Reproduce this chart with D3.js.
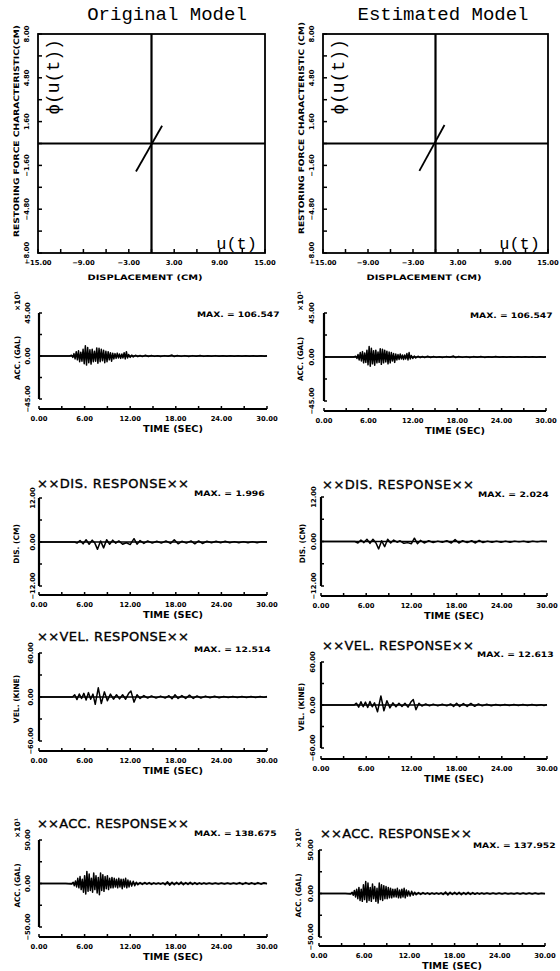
<!DOCTYPE html>
<html><head><meta charset="utf-8">
<script src="https://cdn.jsdelivr.net/npm/d3@7"></script>
<style>body{margin:0;background:#fff}svg{display:block}</style>
</head><body><script>
// ---------------- DATA ----------------
const hystTicksX = [-15,-12,-9,-6,-3,0,3,6,9,12,15];
const hystLabelsX = [-15,-9,-3,3,9,15];
const hystTicksY = [-8,-6.4,-4.8,-3.2,-1.6,0,1.6,3.2,4.8,6.4,8];
const hystLabelsY = [-8,-4.8,-1.6,1.6,4.8,8];
const hystOriginal = [[-2.05,-2.05],[1.4,1.3]];
const hystEstimated = [[-2.15,-2.0],[1.2,1.35]];
const timeTicks = [0,3,6,9,12,15,18,21,24,27,30];
const timeLabels = [0,6,12,18,24,30];

// input ground acceleration (x10 gal) — same record for both models
const inputAcc = [[0,0],[4.0,0],[4.3,0.8],[4.45,-1.5],[4.6,2.5],[4.75,-3],[4.9,4.5],[5.05,-4],[5.2,5.5],[5.35,-6],[5.5,4],[5.65,-5.5],[5.8,7],[5.95,-8],[6.1,10.65],[6.25,-9.5],[6.4,9],[6.55,-7],[6.7,6.5],[6.85,-8.5],[7.0,7],[7.15,-6],[7.3,5],[7.45,-5.5],[7.6,8.5],[7.75,-7.5],[7.9,8],[8.05,-6],[8.2,7],[8.35,-5],[8.5,6],[8.65,-7],[8.8,5],[8.95,-6],[9.1,4.5],[9.25,-4],[9.4,3.5],[9.55,-5.5],[9.7,3],[9.85,-3],[10.0,2.5],[10.15,-2.5],[10.3,3],[10.45,-2],[10.6,2],[10.75,-2.5],[10.9,2],[11.05,-2],[11.2,3.5],[11.35,-3],[11.5,4.5],[11.65,-2],[11.8,1.5],[12.0,-1.5],[12.2,1],[12.4,-1],[12.7,0.8],[13,-0.7],[13.3,0.5],[13.6,-0.6],[14,0.8],[14.4,-0.5],[14.8,0.5],[15.2,-0.4],[15.6,0.3],[16,-0.5],[16.5,0.4],[17,-0.3],[17.5,1],[17.8,-0.6],[18.2,0.5],[18.7,-0.4],[19.2,0.4],[19.7,-0.5],[20.2,0.4],[20.7,-0.3],[21.2,0.5],[21.7,-0.4],[22.2,0.3],[22.7,-0.3],[23.2,0.4],[23.7,-0.3],[24.2,0.3],[24.7,-0.3],[25.2,0.3],[25.7,-0.3],[26.2,0.3],[26.7,-0.2],[27.2,0.3],[27.7,-0.3],[28.2,0.2],[28.7,-0.3],[29.2,0.3],[29.7,-0.2],[30,0.2]];

const origDis = [[0,0],[4.7,0],[5.0,-0.3],[5.4,0.4],[5.8,-0.5],[6.2,0.6],[6.6,-0.6],[7.0,0.5],[7.35,-0.3],[7.7,-2.0],[8.1,0.3],[8.5,-1.6],[8.9,0.6],[9.3,-0.6],[9.7,0.5],[10.1,-0.3],[10.5,0.3],[11.0,-0.6],[11.5,-0.2],[12.0,-0.7],[12.5,0.9],[12.9,-0.6],[13.3,0.4],[13.8,-0.4],[14.3,0.3],[14.9,-0.3],[15.5,0.2],[16.1,-0.3],[16.7,0.3],[17.3,-0.4],[17.8,0.6],[18.3,-0.5],[18.8,0.2],[19.4,-0.3],[20.0,0.3],[20.5,-0.5],[21.0,0.3],[21.5,-0.4],[22.1,0.2],[22.7,-0.2],[23.3,0.2],[23.9,-0.2],[24.5,0.2],[25.1,-0.2],[25.7,0.1],[26.3,-0.2],[26.9,0.1],[27.5,-0.2],[28.1,0.1],[28.7,-0.2],[29.3,0.1],[30,0]];
const estDis = [[0,0],[4.5,0],[4.9,-0.4],[5.3,0.4],[5.7,-0.3],[6.1,0.6],[6.5,-0.5],[6.9,0.6],[7.3,-0.4],[7.65,-2.0],[8.05,0.2],[8.45,-1.4],[8.85,0.6],[9.25,-0.4],[9.65,0.4],[10.1,-0.2],[10.5,0.2],[11.0,-0.5],[11.5,-0.3],[12.0,-0.6],[12.4,0.9],[12.8,-0.6],[13.2,0.3],[13.7,-0.4],[14.3,0.2],[14.9,-0.3],[15.5,0.1],[16.1,-0.2],[16.7,0.2],[17.3,-0.4],[17.8,0.5],[18.3,-0.4],[18.8,0.2],[19.4,-0.3],[20.0,0.2],[20.5,-0.4],[21.0,0.3],[21.5,-0.3],[22.1,0.1],[22.7,-0.2],[23.3,0.1],[23.9,-0.2],[24.5,0.1],[25.1,-0.2],[25.7,0.1],[26.3,-0.1],[26.9,0.1],[27.5,-0.2],[28.1,0.1],[28.7,-0.1],[29.3,0.1],[30,0]];

const origVel = [[0,0],[4.4,0],[4.7,3],[5.0,-3.5],[5.3,4],[5.6,-2],[5.9,5],[6.2,-4],[6.5,6],[6.8,-3],[7.1,4],[7.4,-10],[7.8,12.5],[8.2,-9],[8.6,7],[9.0,-5],[9.4,4],[9.8,-3],[10.2,3],[10.6,-2.5],[11.0,3],[11.4,-3],[11.8,5],[12.1,8],[12.5,-7],[12.9,3],[13.3,-2],[13.8,2],[14.3,-1.5],[14.8,1.5],[15.4,-1.5],[16.0,1.2],[16.6,-1.5],[17.1,1.8],[17.5,-2.5],[17.9,3],[18.3,-2],[18.8,2],[19.3,-2],[19.8,2.5],[20.3,-2],[20.8,1.5],[21.3,-1.5],[21.9,1.2],[22.5,-1],[23.1,1],[23.7,-1],[24.3,0.8],[24.9,-0.8],[25.5,0.8],[26.1,-0.8],[26.7,0.8],[27.3,-0.8],[27.9,0.7],[28.5,-0.7],[29.1,0.7],[29.6,-0.5],[30,0.8]];
const estVel = [[0,0],[4.4,0],[4.7,2.5],[5.0,-3],[5.3,4.5],[5.6,-2.5],[5.9,4],[6.2,-3.5],[6.5,5],[6.8,-2.5],[7.1,3],[7.5,-9.5],[7.95,12.6],[8.35,-8],[8.75,6],[9.15,-4],[9.55,3],[9.95,-2.5],[10.35,2.5],[10.75,-2],[11.15,2.5],[11.55,-3],[11.95,4.5],[12.25,7.5],[12.6,-6.5],[13.0,2.5],[13.4,-1.5],[13.9,1.5],[14.4,-1.2],[14.9,1.2],[15.5,-1.2],[16.1,1],[16.7,-1.2],[17.2,1.5],[17.6,-2],[18.0,2.5],[18.4,-2],[18.9,2],[19.4,-2],[19.9,2.2],[20.4,-1.8],[20.9,1.5],[21.4,-1.2],[22.0,1],[22.6,-1],[23.2,0.8],[23.8,-0.8],[24.4,0.7],[25.0,-0.7],[25.6,0.7],[26.2,-0.7],[26.8,0.6],[27.4,-0.7],[28.0,0.6],[28.6,-0.6],[29.2,0.5],[29.6,-0.8],[30,0.5]];

const origAcc = [[0,0],[3.5,0],[4.3,-0.5],[4.5,1.5],[4.65,-2.5],[4.8,3],[4.95,-4],[5.1,6],[5.25,-5],[5.4,8],[5.55,-7],[5.7,5],[5.85,-10],[6.0,9],[6.15,-12],[6.3,13.9],[6.45,-9],[6.6,11],[6.75,-8],[6.9,6],[7.05,-10],[7.2,12],[7.35,-7],[7.5,9],[7.65,-11],[7.8,7],[7.95,-13],[8.1,12],[8.25,-8],[8.4,10],[8.55,-9],[8.7,8],[8.85,-6],[9.0,9],[9.15,-7],[9.3,6],[9.45,-5],[9.6,7],[9.75,-5],[9.9,6],[10.05,-4],[10.2,5],[10.35,-5],[10.5,6],[10.65,-4],[10.8,5],[10.95,-6],[11.1,5],[11.25,-4],[11.4,6],[11.55,-5],[11.7,4],[11.85,-4],[12.0,3],[12.2,-3],[12.4,2.5],[12.6,-2.5],[12.8,1.5],[13.0,-1.5],[13.3,1],[13.6,-1],[13.9,1.2],[14.2,-0.8],[14.5,1],[14.8,-1],[15.1,0.8],[15.4,-0.7],[15.7,0.6],[16.0,-0.8],[16.3,0.8],[16.6,-1.5],[16.9,2],[17.2,-2],[17.5,1.5],[17.8,-1.5],[18.1,1.5],[18.4,-1.2],[18.7,1.8],[19.0,-1.5],[19.3,1.2],[19.6,-1],[19.9,1.5],[20.2,-1.2],[20.5,1],[20.8,-1],[21.1,0.8],[21.4,-0.8],[21.7,0.8],[22.0,-0.6],[22.4,0.6],[22.8,-0.6],[23.2,0.6],[23.6,-0.5],[24.0,0.5],[24.4,-0.6],[24.8,0.6],[25.2,-0.5],[25.6,0.5],[26.0,-0.6],[26.4,1],[26.8,-1],[27.2,1],[27.6,-0.8],[28.0,0.8],[28.4,-1],[28.8,1],[29.2,-0.8],[29.6,0.8],[30,-0.3]];
const estAcc = [[0,0],[3.5,0],[4.2,-0.5],[4.4,1.5],[4.55,-2],[4.7,3.5],[4.85,-4],[5.0,5],[5.15,-6],[5.3,7],[5.45,-8],[5.6,5],[5.75,-9],[5.9,10],[6.05,-7],[6.2,13.8],[6.35,-10],[6.5,12],[6.65,-8],[6.8,7],[6.95,-9],[7.1,11],[7.25,-6],[7.4,8],[7.55,-9],[7.7,6],[7.85,-11],[8.0,12],[8.15,-7],[8.3,10],[8.45,-8],[8.6,9],[8.75,-6],[8.9,8],[9.05,-6],[9.2,7],[9.35,-5],[9.5,6],[9.65,-5],[9.8,5],[9.95,-4],[10.1,5],[10.25,-4],[10.4,6],[10.55,-5],[10.7,4],[10.85,-5],[11.0,5],[11.15,-4],[11.3,6],[11.45,-5],[11.6,4],[11.75,-3],[11.9,3],[12.1,-3],[12.3,2.5],[12.5,-2],[12.7,1.5],[12.9,-1.5],[13.2,1],[13.5,-1],[13.8,1],[14.1,-0.8],[14.4,0.8],[14.7,-1],[15.0,0.6],[15.3,-0.8],[15.6,0.6],[15.9,-0.8],[16.2,0.8],[16.5,-1.2],[16.8,1.8],[17.1,-1.8],[17.4,1.5],[17.7,-1.2],[18.0,1.3],[18.3,-1.2],[18.6,1.5],[18.9,-1.5],[19.2,1.2],[19.5,-1],[19.8,1.3],[20.1,-1.2],[20.4,1],[20.7,-0.9],[21.0,0.8],[21.3,-0.8],[21.6,0.7],[21.9,-0.6],[22.3,0.6],[22.7,-0.6],[23.1,0.5],[23.5,-0.5],[23.9,0.5],[24.3,-0.5],[24.7,0.5],[25.1,-0.5],[25.5,0.4],[25.9,-0.5],[26.3,0.6],[26.7,-0.6],[27.1,0.6],[27.5,-0.6],[27.9,0.5],[28.3,-0.6],[28.7,0.5],[29.1,-0.5],[29.5,0.4],[30,-0.4]];

const maxTexts = {inL:"MAX. = 106.547", inR:"MAX. = 106.547", disL:"MAX. = 1.996", disR:"MAX. = 2.024", velL:"MAX. = 12.514", velR:"MAX. = 12.613", accL:"MAX. = 138.675", accR:"MAX. = 137.952"};

// ---------------- DRAW ----------------
const svg = d3.select("body").append("svg").attr("width",560).attr("height",971);
const SANS = "'DejaVu Sans', sans-serif";
const MONO = "'Courier New','Liberation Mono',monospace";
const fmt = d3.format(".2f");

function txt(x,y,s,o={}){
  const t = svg.append("text").attr("x",x).attr("y",y).text(s)
    .attr("font-family",o.family||SANS).attr("font-size",o.size||6.8)
    .attr("font-weight",o.weight||"bold").attr("text-anchor",o.anchor||"middle").attr("fill","#000");
  if(o.len) t.attr("textLength",o.len).attr("lengthAdjust",o.adj||"spacingAndGlyphs");
  if(o.rot){ t.attr("dy","0.35em").attr("transform",`rotate(-90 ${x} ${y})`); }
  if(o.stroke) t.attr("stroke","#000").attr("stroke-width",o.stroke);
  return t;
}
function ln(x1,y1,x2,y2,w){
  svg.append("line").attr("x1",x1).attr("y1",y1).attr("x2",x2).attr("y2",y2)
    .attr("stroke","#000").attr("stroke-width",w||1.8);
}

function hystPanel(c, seg){
  const x = d3.scaleLinear().domain([-15,15]).range([c.x0,c.x1]);
  const y = d3.scaleLinear().domain([-8,8]).range([c.y1,c.y0]);
  svg.append("rect").attr("x",c.x0).attr("y",c.y0).attr("width",c.x1-c.x0).attr("height",c.y1-c.y0)
    .attr("fill","none").attr("stroke","#000").attr("stroke-width",1.8);
  ln(x(0),c.y0,x(0),c.y1,2.2);
  ln(c.x0,y(0),c.x1,y(0),2.2);
  hystTicksY.forEach(v=>ln(c.x0,y(v),c.x0+4,y(v),1.5));
  hystTicksX.forEach(v=>ln(x(v),c.y1,x(v),c.y1-4,1.5));
  hystLabelsY.forEach(v=>txt(c.ytx,y(v),fmt(v),{rot:true}));
  hystLabelsX.forEach(v=>txt(x(v),c.y1+12,fmt(v)));
  txt(c.dispX,c.y1+27,"DISPLACEMENT  (CM)",{size:7.5,len:115});
  txt(c.ytitleX,c.ytitleY,c.ytitle,{size:7.5,rot:true,len:212});
  svg.append("path").datum(seg).attr("fill","none").attr("stroke","#000").attr("stroke-width",1.8)
    .attr("d",d3.line().x(d=>x(d[0])).y(d=>y(d[1])));
  txt(c.titleX,20,c.title,{family:MONO,size:19,weight:"normal"});
  txt(c.phiX,77,"\u03D5(u(t))",{family:MONO,size:18,weight:"normal",rot:true});
  txt(c.x1-8,249,"u(t)",{family:MONO,size:17,weight:"normal",anchor:"end"});
}

function timePanel(c, data, ymax, ylab, mult, maxStr){
  const x = d3.scaleLinear().domain([0,30]).range([c.ax,c.x1]);
  const y = d3.scaleLinear().domain([-ymax,ymax]).range([c.bot,c.top]);
  ln(c.ax,c.top,c.ax,c.bot,2.2);
  [-ymax,-ymax/2,0,ymax/2,ymax].forEach(v=>ln(c.ax,y(v),c.ax+3,y(v),1.5));
  [-ymax,0,ymax].forEach(v=>txt(c.ytx,y(v),fmt(v),{rot:true}));
  const ymid = (c.top+c.bot)/2;
  txt(c.ytl,ymid+2,ylab,{size:7.5,rot:true,len:ylab.length*4.4});
  if(mult) txt(c.ytl,c.top-12,"\u00D710\u00B9",{size:7.5,rot:true});
  // time axis
  ln(x(0),c.xa,x(30),c.xa,2);
  timeTicks.forEach(v=>ln(x(v),c.xa,x(v),c.xa-3,1.5));
  timeLabels.forEach(v=>txt(x(v),c.xa+12,fmt(v)));
  txt(x(15)+20,c.xa+23,"TIME  (SEC)",{size:8,len:60});
  // zero line + signal
  ln(c.ax,y(0),c.x1,y(0),1.3);
  svg.append("path").datum(data).attr("fill","none").attr("stroke","#000").attr("stroke-width",1.5)
    .attr("stroke-linejoin","round")
    .attr("d",d3.line().x(d=>x(d[0])).y(d=>y(d[1])));
  if(c.title) txt(c.titleX,c.titleY,c.title,{size:13,weight:"normal",anchor:"start",len:152,adj:"spacing",stroke:0.35});
  txt(c.maxX,c.maxY,maxStr,{size:7.5,anchor:"start",len:maxStr.length*5.9});
}

// hysteresis panels
hystPanel({x0:38,x1:265,y0:34,y1:253,ytx:27,ytitleX:16,ytitleY:131,dispX:145,titleX:167,phiX:53,
  title:"Original Model",ytitle:"RESTORING FORCE CHARACTERISTIC(CM)"}, hystOriginal);
hystPanel({x0:323,x1:548,y0:34,y1:253,ytx:312,ytitleX:301,ytitleY:128,dispX:424,titleX:443,phiX:338,
  title:"Estimated Model",ytitle:"RESTORING FORCE CHARACTERISTIC (CM)"}, hystEstimated);

// input acceleration
timePanel({ax:39,x1:267,top:313,bot:399,xa:409,ytx:28,ytl:17,maxX:197,maxY:317},inputAcc,45,"ACC. (GAL)",true,maxTexts.inL);
timePanel({ax:324,x1:546,top:313,bot:401,xa:411,ytx:312,ytl:300,maxX:470,maxY:318},inputAcc,45,"ACC. (GAL)",true,maxTexts.inR);
// displacement
timePanel({ax:39,x1:267,top:498,bot:586,xa:595,ytx:33,ytl:16,maxX:194,maxY:496,title:"\u00D7\u00D7DIS.  RESPONSE\u00D7\u00D7",titleX:37,titleY:488},origDis,12,"DIS. (CM)",false,maxTexts.disL);
timePanel({ax:321,x1:547,top:497,bot:586,xa:596,ytx:314,ytl:302,maxX:478,maxY:497,title:"\u00D7\u00D7DIS.  RESPONSE\u00D7\u00D7",titleX:322,titleY:489},estDis,12,"DIS. (CM)",false,maxTexts.disR);
// velocity
timePanel({ax:39,x1:267,top:653,bot:741,xa:751,ytx:31,ytl:16,maxX:194,maxY:652,title:"\u00D7\u00D7VEL.  RESPONSE\u00D7\u00D7",titleX:37,titleY:641},origVel,60,"VEL. (KINE)",false,maxTexts.velL);
timePanel({ax:321,x1:547,top:662,bot:748,xa:759,ytx:313,ytl:301,maxX:477,maxY:657,title:"\u00D7\u00D7VEL.  RESPONSE\u00D7\u00D7",titleX:322,titleY:650},estVel,60,"VEL. (KINE)",false,maxTexts.velR);
// acceleration response
timePanel({ax:39,x1:267,top:840,bot:927,xa:937,ytx:28,ytl:17,maxX:194,maxY:836,title:"\u00D7\u00D7ACC.  RESPONSE\u00D7\u00D7",titleX:37,titleY:828},origAcc,50,"ACC. (GAL)",true,maxTexts.accL);
timePanel({ax:319,x1:545,top:850,bot:937,xa:946,ytx:311,ytl:298,maxX:473,maxY:848,title:"\u00D7\u00D7ACC.  RESPONSE\u00D7\u00D7",titleX:320,titleY:838},estAcc,50,"ACC. (GAL)",true,maxTexts.accR);
</script></body></html>
